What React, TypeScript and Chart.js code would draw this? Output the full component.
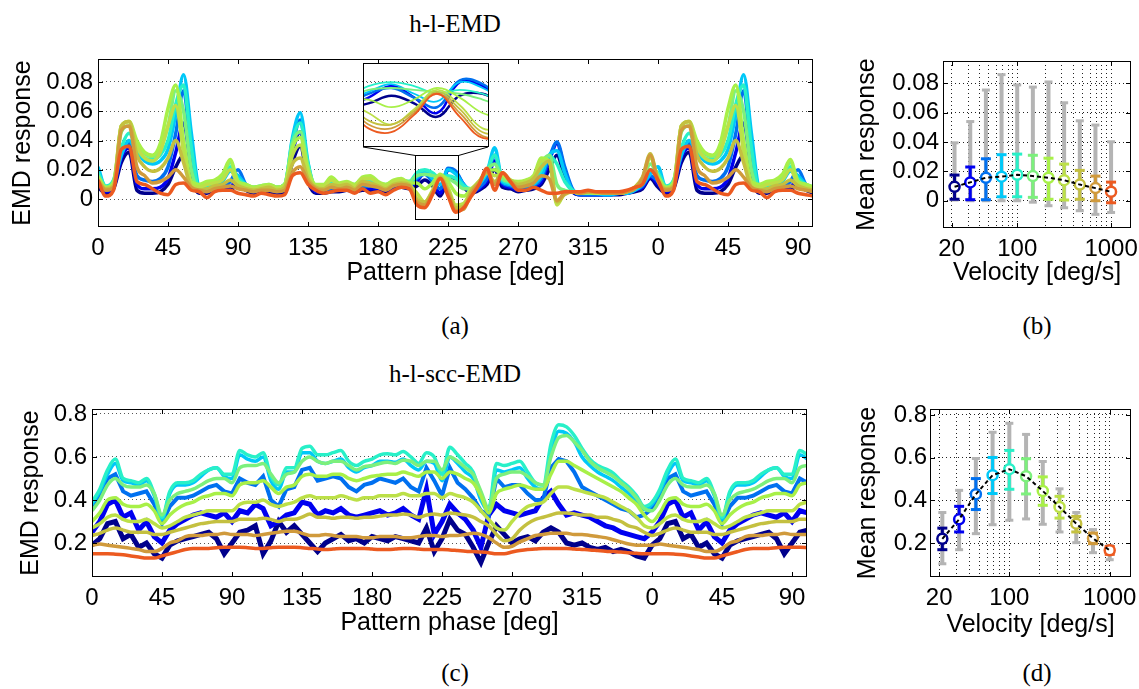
import React, { useEffect, useRef } from 'react';
import { Chart, registerables } from 'chart.js';
Chart.register(...registerables);

// ---------- shared axes data ----------
const phaseDeg = [0,5,10,15,20,25,30,35,40,45,50,55,60,65,70,75,80,85,90,95,100,105,110,115,120,125,130,135,140,145,150,155,160,165,170,175,180,185,190,195,200,205,210,215,220,225,230,235,240,245,250,255,260,265,270,275,280,285,290,295,300,305,310,315,320,325,330,335,340,345,350,355];
const phaseMax = 459.6;
const phaseTicks = [0,45,90,135,180,225,270,315,360,405,450];
const emdTicks = [0,0.02,0.04,0.06,0.08];
const sccTicks = [0.2,0.4,0.6,0.8];
const velocity = [21.5,31.6,46.4,68.1,100,146.8,215.4,316.2,464.2,681.3,1000];
const velocityTicks = [20,30,40,50,60,70,80,90,100,200,300,400,500,600,700,800,900,1000];
const velocityLabels = [20,100,1000];
const zoomPhase = [203.8, 231.4];
const zoomResp = [-0.0137, 0.030];
const insetTicks = [0, 0.02];

const seriesColors = ['#00008c','#0000f0','#0070f0','#00c8f8','#28f0c8','#7cf07c','#a8f048','#bce048','#c4c040','#d09a3c','#ec5a20'];

// ---------- (a) h-l-EMD responses ----------
const emd1 = [0.008,0.004,0.007,0.025,0.032,0.006,0.004,0.004,0.005,0.010,0.022,0.030,0.012,0.004,0.004,0.006,0.006,0.006,0.010,0.006,0.004,0.005,0.005,0.004,0.005,0.025,0.036,0.012,0.004,0.004,0.005,0.005,0.006,0.005,0.006,0.006,0.006,0.005,0.007,0.008,0.007,0.009,0.013,0.009,0.002,0.013,0.014,0.008,0.004,0.006,0.010,0.020,0.008,0.007,0.005,0.006,0.007,0.010,0.020,0.030,0.015,0.005,0.003,0.003,0.003,0.003,0.003,0.003,0.004,0.005,0.007,0.014];
const emd2 = [0.010,0.005,0.008,0.028,0.035,0.010,0.007,0.007,0.008,0.014,0.032,0.052,0.020,0.005,0.005,0.007,0.007,0.008,0.014,0.008,0.005,0.006,0.006,0.005,0.006,0.032,0.046,0.016,0.005,0.005,0.006,0.006,0.007,0.006,0.007,0.007,0.007,0.006,0.008,0.009,0.008,0.012,0.018,0.012,0.004,0.020,0.018,0.010,0.005,0.007,0.012,0.026,0.010,0.008,0.006,0.007,0.008,0.012,0.026,0.038,0.020,0.006,0.003,0.003,0.003,0.003,0.003,0.004,0.004,0.006,0.008,0.015];
const emd3 = [0.012,0.006,0.010,0.030,0.038,0.016,0.013,0.012,0.014,0.022,0.045,0.074,0.030,0.006,0.006,0.008,0.008,0.012,0.020,0.010,0.006,0.007,0.007,0.006,0.007,0.036,0.054,0.020,0.006,0.006,0.007,0.007,0.008,0.007,0.008,0.009,0.008,0.007,0.009,0.010,0.009,0.014,0.017,0.012,0.007,0.021,0.019,0.010,0.005,0.008,0.014,0.030,0.011,0.009,0.007,0.008,0.009,0.014,0.028,0.039,0.022,0.007,0.003,0.003,0.003,0.003,0.003,0.004,0.004,0.006,0.009,0.016];
const emd4 = [0.022,0.008,0.012,0.030,0.040,0.032,0.026,0.024,0.026,0.034,0.058,0.085,0.045,0.008,0.006,0.009,0.012,0.019,0.016,0.010,0.007,0.008,0.008,0.007,0.009,0.042,0.059,0.025,0.007,0.007,0.008,0.008,0.009,0.008,0.010,0.010,0.009,0.008,0.010,0.011,0.011,0.015,0.019,0.014,0.010,0.020,0.017,0.010,0.006,0.010,0.018,0.035,0.012,0.010,0.008,0.009,0.010,0.016,0.030,0.033,0.018,0.006,0.004,0.004,0.004,0.003,0.003,0.004,0.004,0.006,0.010,0.017];
const emd5 = [0.018,0.009,0.013,0.035,0.045,0.034,0.028,0.027,0.030,0.040,0.065,0.078,0.035,0.008,0.008,0.011,0.014,0.022,0.014,0.010,0.008,0.009,0.009,0.008,0.010,0.040,0.052,0.024,0.008,0.008,0.011,0.009,0.010,0.009,0.012,0.012,0.010,0.009,0.011,0.012,0.012,0.018,0.020,0.018,0.014,0.016,0.014,0.009,0.007,0.011,0.019,0.030,0.013,0.011,0.010,0.011,0.012,0.020,0.030,0.024,0.012,0.006,0.004,0.004,0.004,0.004,0.004,0.004,0.005,0.007,0.011,0.020];
const emd6 = [0.016,0.008,0.012,0.046,0.050,0.038,0.031,0.029,0.034,0.050,0.074,0.060,0.020,0.008,0.010,0.012,0.016,0.025,0.012,0.010,0.008,0.009,0.010,0.008,0.010,0.038,0.046,0.022,0.009,0.009,0.013,0.010,0.011,0.010,0.014,0.014,0.011,0.010,0.012,0.013,0.012,0.016,0.017,0.016,0.015,0.014,0.011,0.007,0.007,0.012,0.020,0.024,0.014,0.012,0.011,0.012,0.014,0.025,0.030,0.010,0.006,0.005,0.004,0.004,0.004,0.004,0.004,0.004,0.005,0.007,0.012,0.024];
const emd7 = [0.015,0.008,0.011,0.050,0.053,0.040,0.032,0.030,0.038,0.062,0.078,0.040,0.012,0.010,0.012,0.013,0.017,0.027,0.012,0.010,0.008,0.009,0.010,0.008,0.010,0.035,0.042,0.020,0.010,0.010,0.015,0.011,0.012,0.010,0.015,0.016,0.012,0.010,0.013,0.014,0.011,0.011,0.007,0.011,0.017,0.012,0.004,0.002,0.007,0.012,0.019,0.020,0.016,0.013,0.012,0.013,0.016,0.028,0.026,-0.003,0.004,0.005,0.004,0.005,0.004,0.004,0.004,0.004,0.005,0.008,0.014,0.028];
const emd8 = [0.014,0.007,0.010,0.050,0.053,0.036,0.028,0.026,0.032,0.050,0.064,0.032,0.010,0.008,0.010,0.011,0.013,0.020,0.010,0.008,0.007,0.008,0.009,0.007,0.009,0.030,0.037,0.017,0.009,0.009,0.013,0.010,0.011,0.009,0.014,0.014,0.011,0.009,0.012,0.013,0.010,0.004,-0.002,0.006,0.016,0.008,-0.004,-0.003,0.006,0.012,0.019,0.016,0.017,0.013,0.011,0.012,0.015,0.026,0.026,-0.004,0.004,0.005,0.004,0.005,0.004,0.004,0.004,0.004,0.005,0.008,0.014,0.029];
const emd9 = [0.013,0.007,0.009,0.050,0.053,0.030,0.022,0.019,0.021,0.028,0.040,0.025,0.008,0.006,0.007,0.009,0.010,0.013,0.009,0.007,0.006,0.007,0.008,0.006,0.008,0.024,0.028,0.014,0.008,0.007,0.010,0.009,0.010,0.007,0.012,0.011,0.009,0.007,0.010,0.011,0.010,0.000,-0.002,0.005,0.015,0.006,-0.006,-0.005,0.006,0.012,0.018,0.012,0.018,0.013,0.010,0.011,0.014,0.022,0.026,-0.002,0.003,0.005,0.004,0.005,0.005,0.004,0.004,0.004,0.005,0.008,0.015,0.031];
const emd10 = [0.012,0.006,0.008,0.047,0.050,0.022,0.016,0.011,0.012,0.015,0.020,0.015,0.008,0.006,0.005,0.007,0.008,0.009,0.007,0.006,0.005,0.006,0.006,0.005,0.006,0.018,0.022,0.012,0.007,0.006,0.008,0.007,0.008,0.006,0.010,0.009,0.008,0.006,0.009,0.010,0.009,-0.002,-0.004,0.004,0.014,0.004,-0.008,-0.007,0.004,0.011,0.019,0.010,0.018,0.012,0.008,0.009,0.011,0.016,0.014,-0.001,0.004,0.005,0.004,0.005,0.005,0.004,0.004,0.004,0.005,0.007,0.014,0.030];
const emd11 = [0.013,0.002,0.006,0.034,0.036,0.012,0.010,0.007,0.004,0.003,0.010,0.011,0.006,0.005,0.001,0.005,0.006,0.006,0.004,0.003,0.002,0.004,0.003,0.002,0.003,0.016,0.018,0.010,0.006,0.004,0.005,0.006,0.006,0.004,0.007,0.004,0.005,0.003,0.006,0.008,0.007,-0.004,-0.006,0.003,0.014,0.002,-0.009,-0.006,0.002,0.010,0.021,0.006,0.018,0.012,0.006,0.006,0.008,0.006,0.004,0.004,0.005,0.005,0.005,0.006,0.005,0.005,0.005,0.005,0.006,0.008,0.010,0.020];
const emdSeries = [emd1,emd2,emd3,emd4,emd5,emd6,emd7,emd8,emd9,emd10,emd11];

// ---------- (b) mean EMD response vs velocity ----------
const emdMean = [0.0095,0.0125,0.0157,0.0164,0.0177,0.0168,0.0157,0.0140,0.0110,0.0086,0.0061];
const emdSdLow = [0.0010,0.0007,0.0007,0.0027,0.0027,0.0023,0.0010,0.0005,0.0010,0.0000,-0.0014];
const emdSdHigh = [0.0175,0.0230,0.0286,0.0314,0.0318,0.0310,0.0290,0.0250,0.0207,0.0168,0.0127];
const emdMin = [0.0005,0.0000,0.0000,0.0000,0.0000,-0.0010,-0.0034,-0.0048,-0.0068,-0.0093,-0.0080];
const emdMax = [0.0395,0.0540,0.0755,0.0860,0.0790,0.0775,0.0810,0.0668,0.0545,0.0516,0.0402];

// ---------- (c) h-l-scc-EMD responses ----------
const scc1 = [0.19,0.22,0.29,0.30,0.22,0.24,0.18,0.20,0.15,0.13,0.19,0.21,0.22,0.23,0.24,0.25,0.22,0.15,0.20,0.25,0.26,0.28,0.15,0.21,0.30,0.25,0.28,0.24,0.20,0.16,0.20,0.22,0.24,0.21,0.22,0.20,0.23,0.22,0.21,0.23,0.22,0.21,0.20,0.27,0.16,0.22,0.31,0.26,0.24,0.18,0.11,0.20,0.28,0.24,0.20,0.22,0.23,0.21,0.25,0.27,0.25,0.20,0.19,0.20,0.18,0.17,0.18,0.16,0.17,0.16,0.14,0.13];
const scc2 = [0.25,0.30,0.38,0.40,0.32,0.34,0.26,0.30,0.23,0.20,0.26,0.29,0.31,0.33,0.34,0.33,0.32,0.34,0.30,0.35,0.34,0.38,0.36,0.28,0.30,0.33,0.34,0.39,0.38,0.33,0.35,0.34,0.36,0.33,0.32,0.33,0.34,0.35,0.33,0.34,0.36,0.33,0.31,0.45,0.24,0.30,0.38,0.34,0.31,0.26,0.18,0.33,0.38,0.35,0.34,0.33,0.34,0.35,0.41,0.44,0.38,0.33,0.34,0.33,0.32,0.30,0.28,0.27,0.25,0.24,0.23,0.22];
const scc3 = [0.36,0.43,0.50,0.52,0.44,0.42,0.43,0.44,0.38,0.29,0.37,0.41,0.41,0.42,0.44,0.46,0.47,0.44,0.43,0.50,0.48,0.47,0.51,0.40,0.37,0.45,0.46,0.54,0.55,0.49,0.50,0.51,0.50,0.46,0.44,0.47,0.48,0.50,0.49,0.48,0.50,0.46,0.44,0.55,0.49,0.42,0.55,0.48,0.45,0.41,0.35,0.33,0.50,0.46,0.47,0.47,0.43,0.40,0.40,0.55,0.59,0.58,0.53,0.46,0.44,0.42,0.40,0.38,0.36,0.35,0.32,0.33];
const scc4 = [0.38,0.44,0.52,0.57,0.49,0.48,0.47,0.49,0.42,0.31,0.43,0.47,0.47,0.48,0.51,0.54,0.55,0.51,0.50,0.61,0.59,0.58,0.60,0.49,0.45,0.53,0.53,0.62,0.62,0.58,0.57,0.58,0.59,0.55,0.53,0.55,0.56,0.58,0.58,0.575,0.59,0.56,0.54,0.58,0.57,0.49,0.60,0.57,0.53,0.50,0.40,0.35,0.54,0.53,0.54,0.55,0.50,0.46,0.45,0.62,0.72,0.71,0.67,0.60,0.56,0.53,0.51,0.49,0.46,0.43,0.39,0.355];
const scc5 = [0.39,0.45,0.54,0.59,0.50,0.49,0.48,0.50,0.43,0.32,0.44,0.48,0.48,0.49,0.52,0.54,0.55,0.52,0.52,0.63,0.61,0.60,0.62,0.51,0.47,0.55,0.55,0.64,0.65,0.61,0.61,0.62,0.63,0.58,0.56,0.58,0.59,0.61,0.615,0.61,0.625,0.60,0.57,0.62,0.60,0.52,0.645,0.61,0.57,0.53,0.42,0.36,0.57,0.56,0.57,0.58,0.53,0.48,0.47,0.66,0.75,0.74,0.70,0.64,0.59,0.56,0.545,0.525,0.49,0.46,0.42,0.37];
const scc6 = [0.35,0.40,0.47,0.50,0.47,0.46,0.46,0.47,0.43,0.33,0.40,0.43,0.44,0.45,0.47,0.49,0.50,0.50,0.48,0.55,0.56,0.56,0.57,0.52,0.48,0.52,0.53,0.58,0.60,0.58,0.57,0.58,0.58,0.56,0.54,0.555,0.56,0.57,0.575,0.57,0.585,0.58,0.56,0.58,0.58,0.54,0.60,0.58,0.55,0.52,0.44,0.36,0.50,0.52,0.53,0.53,0.51,0.48,0.47,0.60,0.69,0.70,0.67,0.63,0.58,0.55,0.53,0.51,0.48,0.45,0.41,0.36];
const scc7 = [0.30,0.34,0.40,0.41,0.38,0.37,0.37,0.38,0.35,0.29,0.33,0.36,0.38,0.39,0.41,0.42,0.43,0.43,0.42,0.47,0.48,0.48,0.49,0.46,0.43,0.46,0.47,0.51,0.52,0.51,0.51,0.52,0.52,0.50,0.49,0.50,0.51,0.515,0.52,0.52,0.53,0.52,0.51,0.53,0.53,0.50,0.53,0.52,0.50,0.48,0.42,0.34,0.43,0.45,0.46,0.47,0.46,0.45,0.45,0.52,0.58,0.58,0.56,0.54,0.52,0.50,0.48,0.46,0.44,0.41,0.38,0.33];
const scc8 = [0.27,0.29,0.32,0.33,0.31,0.30,0.30,0.31,0.29,0.27,0.28,0.30,0.32,0.33,0.34,0.35,0.35,0.35,0.35,0.38,0.39,0.39,0.40,0.38,0.37,0.38,0.39,0.41,0.42,0.41,0.41,0.41,0.42,0.41,0.40,0.41,0.41,0.42,0.42,0.42,0.43,0.42,0.42,0.43,0.43,0.41,0.43,0.42,0.41,0.39,0.35,0.31,0.27,0.26,0.30,0.34,0.37,0.38,0.39,0.43,0.46,0.46,0.45,0.44,0.43,0.42,0.41,0.39,0.37,0.35,0.32,0.28];
const scc9 = [0.235,0.245,0.26,0.27,0.26,0.25,0.25,0.25,0.24,0.24,0.25,0.26,0.27,0.28,0.29,0.295,0.30,0.30,0.30,0.31,0.31,0.31,0.315,0.31,0.30,0.31,0.31,0.32,0.335,0.32,0.32,0.315,0.32,0.32,0.315,0.32,0.32,0.325,0.33,0.33,0.335,0.33,0.32,0.33,0.335,0.33,0.34,0.335,0.33,0.32,0.30,0.28,0.24,0.21,0.22,0.26,0.29,0.31,0.32,0.33,0.34,0.34,0.335,0.33,0.33,0.32,0.32,0.31,0.30,0.28,0.27,0.25];
const scc10 = [0.19,0.195,0.19,0.185,0.18,0.175,0.17,0.16,0.16,0.175,0.20,0.21,0.23,0.235,0.235,0.24,0.24,0.245,0.24,0.24,0.24,0.235,0.24,0.245,0.25,0.255,0.255,0.245,0.235,0.235,0.24,0.235,0.23,0.23,0.23,0.225,0.225,0.23,0.23,0.23,0.225,0.225,0.23,0.235,0.235,0.23,0.235,0.235,0.24,0.245,0.24,0.225,0.20,0.18,0.185,0.205,0.22,0.235,0.24,0.245,0.245,0.245,0.24,0.24,0.235,0.23,0.225,0.215,0.205,0.195,0.19,0.19];
const scc11 = [0.15,0.15,0.15,0.148,0.145,0.14,0.135,0.13,0.13,0.14,0.15,0.16,0.17,0.175,0.175,0.175,0.178,0.18,0.18,0.18,0.178,0.175,0.175,0.178,0.18,0.18,0.18,0.178,0.175,0.172,0.17,0.172,0.175,0.175,0.175,0.175,0.172,0.17,0.17,0.172,0.175,0.175,0.172,0.17,0.17,0.17,0.168,0.165,0.162,0.16,0.158,0.155,0.15,0.15,0.158,0.165,0.17,0.172,0.175,0.175,0.175,0.175,0.172,0.17,0.168,0.165,0.162,0.16,0.158,0.155,0.152,0.15];
const sccSeries = [scc1,scc2,scc3,scc4,scc5,scc6,scc7,scc8,scc9,scc10,scc11];

// ---------- (d) mean scc response vs velocity ----------
const sccMean = [0.220,0.311,0.429,0.518,0.546,0.513,0.444,0.369,0.291,0.222,0.166];
const sccSdLow = [0.169,0.252,0.357,0.432,0.452,0.430,0.377,0.317,0.252,0.197,0.147];
const sccSdHigh = [0.270,0.372,0.502,0.601,0.634,0.595,0.510,0.419,0.325,0.247,0.184];
const sccMin = [0.103,0.169,0.244,0.286,0.307,0.313,0.288,0.252,0.202,0.155,0.122];
const sccMax = [0.343,0.447,0.596,0.719,0.761,0.709,0.582,0.454,0.343,0.263,0.189];

// ---------- styling ----------
const SANS = "'Liberation Sans', Arial, Helvetica, sans-serif";
const SERIF = "'Liberation Serif', 'Times New Roman', serif";
const tickFont = { family: SANS, size: 24, lineHeight: 1 };
const titleFont = { family: SANS, size: 25, lineHeight: 1.2 };

function fixedTicks(values: number[]) {
  return (scale: any) => { scale.ticks = values.map((v) => ({ value: v })); };
}

function fitBox(prop: 'width' | 'height', size: number) {
  return (s: any) => {
    s[prop] = size;
    s.paddingLeft = 0; s.paddingRight = 0; s.paddingTop = 0; s.paddingBottom = 0;
  };
}

function cyclePoints(vals: number[]) {
  const pts = phaseDeg.map((d, i) => ({ x: d, y: vals[i] }));
  phaseDeg.forEach((d, i) => { if (d + 360 <= phaseMax + 1) pts.push({ x: d + 360, y: vals[i] }); });
  return pts;
}

function makeFrame(xTicks: number[], yTicks: number[], len: number) {
  return {
    id: 'frame',
    afterDatasetsDraw(chart: any) {
      const { ctx, chartArea: a, scales } = chart;
      ctx.save();
      ctx.strokeStyle = '#000';
      ctx.lineWidth = 1;
      ctx.setLineDash([]);
      ctx.strokeRect(Math.round(a.left) + 0.5, Math.round(a.top) + 0.5, Math.round(a.width) - 1, Math.round(a.height) - 1);
      if (len > 0) {
        ctx.beginPath();
        xTicks.forEach((v) => {
          const p = Math.round(scales.x.getPixelForValue(v)) + 0.5;
          ctx.moveTo(p, a.bottom); ctx.lineTo(p, a.bottom - len);
          ctx.moveTo(p, a.top); ctx.lineTo(p, a.top + len);
        });
        yTicks.forEach((v) => {
          const p = Math.round(scales.y.getPixelForValue(v)) + 0.5;
          ctx.moveTo(a.left, p); ctx.lineTo(a.left + len, p);
          ctx.moveTo(a.right, p); ctx.lineTo(a.right - len, p);
        });
        ctx.stroke();
      }
      ctx.restore();
    },
  };
}

function makeZoomLink(insetLeft: number, insetRight: number, insetBottom: number) {
  return {
    id: 'zoomLink',
    afterDatasetsDraw(chart: any) {
      const { ctx, scales } = chart;
      const x0 = scales.x.getPixelForValue(zoomPhase[0]);
      const x1 = scales.x.getPixelForValue(zoomPhase[1]);
      const yTop = scales.y.getPixelForValue(zoomResp[1]);
      const yBot = scales.y.getPixelForValue(zoomResp[0]);
      ctx.save();
      ctx.strokeStyle = '#000';
      ctx.lineWidth = 1;
      ctx.strokeRect(Math.round(x0) + 0.5, Math.round(yTop) + 0.5, Math.round(x1 - x0), Math.round(yBot - yTop));
      ctx.beginPath();
      ctx.moveTo(Math.round(x0) + 0.5, Math.round(yTop) + 0.5); ctx.lineTo(insetLeft, insetBottom);
      ctx.moveTo(Math.round(x1) + 0.5, Math.round(yTop) + 0.5); ctx.lineTo(insetRight, insetBottom);
      ctx.stroke();
      ctx.restore();
    },
  };
}

const basePlugins = { legend: { display: false }, tooltip: { enabled: false } };

function phaseConfig(p: any) {
  return {
    type: 'line',
    data: {
      datasets: p.series.map((vals: number[], i: number) => ({
        data: cyclePoints(vals),
        borderColor: seriesColors[i],
        borderWidth: p.widths[i],
        pointRadius: 0,
        fill: false,
        cubicInterpolationMode: p.sharp && p.sharp[i] ? 'default' : 'monotone',
        tension: 0,
        order: p.series.length - i,
      })),
    },
    options: {
      responsive: false,
      animation: false,
      events: [],
      layout: { padding: { top: p.padTop, right: p.padRight, left: 0, bottom: 0 } },
      plugins: basePlugins,
      scales: {
        x: {
          type: 'linear', min: 0, max: phaseMax,
          afterBuildTicks: fixedTicks(phaseTicks),
          afterFit: fitBox('height', p.xHeight),
          ticks: { callback: (v: number) => String(v % 360), font: tickFont, color: '#000', padding: 9, autoSkip: false, maxRotation: 0 },
          grid: { display: false, drawTicks: false },
          border: { display: false },
          title: { display: true, text: 'Pattern phase [deg]', font: titleFont, color: '#000', padding: { top: 0, bottom: 2 } },
        },
        y: {
          type: 'linear', min: p.yMin, max: p.yMax,
          afterBuildTicks: fixedTicks(p.yTicks),
          afterFit: fitBox('width', p.yWidth),
          ticks: { callback: p.yFmt, font: tickFont, color: '#000', padding: 5, autoSkip: false },
          grid: { display: true, drawTicks: false, color: '#555', lineWidth: 1 },
          border: { display: false, dash: [1, 3] },
          title: { display: true, text: 'EMD response', font: titleFont, color: '#000', padding: { top: p.yTitlePad, bottom: 0 } },
        },
      },
    },
    plugins: p.plugins,
  };
}

function velocityConfig(p: any) {
  const meanPts = velocity.map((v, i) => ({ x: v, y: p.mean[i] }));
  const datasets: any[] = [];
  velocity.forEach((v, i) => {
    datasets.push({
      data: [{ x: v, y: p.lo[i] }, { x: v, y: p.hi[i] }],
      borderColor: '#b4b4b4', borderWidth: 4,
      pointStyle: 'line', pointRadius: 4, pointBorderWidth: 3, pointBorderColor: '#b4b4b4',
      order: 40,
    });
  });
  velocity.forEach((v, i) => {
    datasets.push({
      data: [{ x: v, y: p.sdLo[i] }, { x: v, y: p.sdHi[i] }],
      borderColor: seriesColors[i], borderWidth: 3,
      pointStyle: 'line', pointRadius: 5, pointBorderWidth: 3, pointBorderColor: seriesColors[i],
      order: 20,
    });
  });
  datasets.push({
    data: meanPts, showLine: false, pointStyle: 'circle', pointRadius: 5, pointBorderWidth: 2.5,
    pointBorderColor: seriesColors, pointBackgroundColor: '#fff', order: 10,
  });
  datasets.push({
    data: meanPts, borderColor: '#000', borderWidth: 2, borderDash: [4, 3], pointRadius: 0, order: 5,
  });
  return {
    type: 'line',
    data: { datasets },
    options: {
      responsive: false,
      animation: false,
      events: [],
      layout: { padding: { top: p.padTop, right: 7, left: 0, bottom: 0 } },
      plugins: basePlugins,
      scales: {
        x: {
          type: 'logarithmic', min: 16.2, max: 1630,
          afterBuildTicks: fixedTicks(velocityTicks),
          afterFit: fitBox('height', p.xHeight),
          ticks: { callback: (v: number) => (velocityLabels.includes(v) ? String(v) : ''), font: tickFont, color: '#000', padding: 9, autoSkip: false, maxRotation: 0 },
          grid: { display: true, drawTicks: false, color: '#222', lineWidth: 1 },
          border: { display: false, dash: [1, 3] },
          title: { display: true, text: 'Velocity [deg/s]', font: titleFont, color: '#000', padding: { top: 0, bottom: p.xTitlePad } },
        },
        y: {
          type: 'linear', min: p.yMin, max: p.yMax,
          afterBuildTicks: fixedTicks(p.yTicks),
          afterFit: fitBox('width', p.yWidth),
          ticks: { callback: p.yFmt, font: tickFont, color: '#000', padding: p.yTickPad, autoSkip: false },
          grid: { display: true, drawTicks: false, color: '#222', lineWidth: 1 },
          border: { display: false, dash: [1, 3] },
          title: { display: true, text: 'Mean response', font: titleFont, color: '#000', padding: { top: p.yTitlePad, bottom: 0 } },
        },
      },
    },
    plugins: [makeFrame(velocityLabels, p.yTicks, 5)],
  };
}

const fmtEmd = (v: number) => (v === 0 ? '0' : v.toFixed(2));
const fmtScc = (v: number) => v.toFixed(1);

function buildPanelA() {
  return phaseConfig({
    series: emdSeries,
    widths: [3.5,3.5,3.5,3.5,3.5,3.5,3.5,3.5,3.5,3.5,3.5],
    yMin: -0.0191, yMax: 0.0957, yTicks: emdTicks, yFmt: fmtEmd,
    padTop: 9, padRight: 17, xHeight: 63, yWidth: 98, yTitlePad: 8,
    plugins: [makeFrame(phaseTicks, emdTicks, 5), makeZoomLink(363, 488, 97)],
  });
}

function buildPanelC() {
  return phaseConfig({
    series: sccSeries,
    widths: [5,5,4,3.5,3.5,3.5,3.5,3.5,3.5,3.5,3.5],
    sharp: [true,true,true,false,false,false,false,false,false,false,false],
    yMin: 0.042, yMax: 0.823, yTicks: sccTicks, yFmt: fmtScc,
    padTop: 9, padRight: 23, xHeight: 63, yWidth: 92, yTitlePad: 16,
    plugins: [makeFrame(phaseTicks, sccTicks, 5)],
  });
}

function buildInset() {
  return {
    type: 'line',
    data: {
      datasets: emdSeries.map((vals, i) => ({
        data: cyclePoints(vals),
        borderColor: seriesColors[i],
        borderWidth: i < 3 ? 2.5 : 1.8,
        pointRadius: 0,
        fill: false,
        tension: 0.4,
        order: emdSeries.length - i,
      })),
    },
    options: {
      responsive: false,
      animation: false,
      events: [],
      layout: { padding: 0 },
      plugins: basePlugins,
      scales: {
        x: { type: 'linear', min: zoomPhase[0], max: zoomPhase[1], display: false },
        y: {
          type: 'linear', min: zoomResp[0], max: zoomResp[1],
          afterBuildTicks: fixedTicks(insetTicks),
          afterFit: fitBox('width', 0),
          ticks: { display: false },
          grid: { display: true, drawTicks: false, color: '#555', lineWidth: 1 },
          border: { display: false, dash: [1, 3] },
        },
      },
    },
    plugins: [makeFrame([], [], 0)],
  };
}

function buildPanelB() {
  return velocityConfig({
    mean: emdMean, sdLo: emdSdLow, sdHi: emdSdHigh, lo: emdMin, hi: emdMax,
    yMin: -0.0186, yMax: 0.0953, yTicks: emdTicks, yFmt: fmtEmd,
    padTop: 11, xHeight: 62, yWidth: 113, yTickPad: 4, yTitlePad: 22, xTitlePad: 2,
  });
}

function buildPanelD() {
  return velocityConfig({
    mean: sccMean, sdLo: sccSdLow, sdHi: sccSdHigh, lo: sccMin, hi: sccMax,
    yMin: 0.041, yMax: 0.828, yTicks: sccTicks, yFmt: fmtScc,
    padTop: 9, xHeight: 63, yWidth: 100, yTickPad: 3, yTitlePad: 23, xTitlePad: 0,
  });
}

function ChartBox({ left, top, width, height, build }: any) {
  const ref = useRef<HTMLCanvasElement>(null);
  useEffect(() => {
    const chart = new Chart(ref.current as HTMLCanvasElement, build());
    return () => chart.destroy();
  }, []);
  return <canvas ref={ref} width={width} height={height} style={{ position: 'absolute', left, top, width, height }} />;
}

function Caption({ text, x, y }: any) {
  return (
    <div style={{ position: 'absolute', left: x, top: y, transform: 'translate(-50%, -50%)', fontFamily: SERIF, fontSize: 25, color: '#000', whiteSpace: 'nowrap', lineHeight: 1 }}>
      {text}
    </div>
  );
}

export default function App() {
  return (
    <div style={{ position: 'absolute', left: 0, top: 0, width: 1139, height: 689, background: '#fff', overflow: 'hidden' }}>
      <Caption text="h-l-EMD" x={455} y={23} />
      <Caption text="(a)" x={455} y={325} />
      <Caption text="(b)" x={1037} y={325} />
      <Caption text="h-l-scc-EMD" x={455} y={373} />
      <Caption text="(c)" x={455} y={672} />
      <Caption text="(d)" x={1037} y={672} />
      <ChartBox left={0} top={50} width={830} height={240} build={buildPanelA} />
      <ChartBox left={363} top={63} width={126} height={84} build={buildInset} />
      <ChartBox left={830} top={50} width={309} height={240} build={buildPanelB} />
      <ChartBox left={0} top={400} width={830} height={240} build={buildPanelC} />
      <ChartBox left={830} top={400} width={309} height={240} build={buildPanelD} />
    </div>
  );
}
